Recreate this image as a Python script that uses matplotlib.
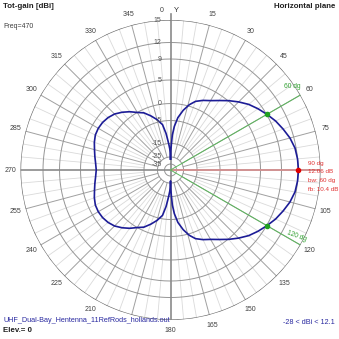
import numpy as np
import matplotlib
matplotlib.use("Agg")
import matplotlib.pyplot as plt
from matplotlib.transforms import offset_copy

plt.rcParams['font.family'] = ['Liberation Sans', 'DejaVu Sans']

# Horizontal-plane gain (dBi) vs azimuth (deg, clockwise from Y)
azimuth = [0, 1, 2, 3, 5, 8, 12, 16, 20, 25, 30, 35, 40, 45, 50, 55, 60, 65, 70, 75, 80, 85,
           90, 95, 100, 105, 110, 115, 120, 125, 130, 135, 140, 145, 150, 155, 160, 164, 168,
           172, 175, 177, 178, 179, 180,
           181, 182, 184, 187, 190, 195, 200, 205, 210, 215, 220, 225, 230, 235, 240, 245,
           250, 255, 260, 265, 270, 275, 280, 285, 290, 295, 300, 305, 310, 315, 320, 325,
           330, 335, 340, 345, 350, 353, 356, 358, 359, 360]
gain_dbi = [-28, -20, -15, -11.3, -7.5, -4.0, -1.6, 0.3, 1.4, 2.2, 2.9, 3.9, 5.1, 6.2, 7.3, 8.2,
            9.06, 9.9, 10.6, 11.3, 11.8, 12.0,
            12.06, 12.0, 11.8, 11.3, 10.6, 9.9, 9.06, 8.2, 7.3, 6.2, 5.1, 3.9, 2.9, 2.2, 1.4,
            0.3, -1.6, -4.0, -7.5, -11.3, -15, -20, -28,
            -22, -19, -15, -10.5, -6.5, -4.2, -2.6, -1.0, 0.0, 1.0, 1.9, 2.7, 3.2, 3.5, 3.6,
            3.5, 3.1, 2.6, 2.2, 1.85, 1.66, 1.85, 2.2, 2.6, 3.1, 3.5, 3.6, 3.5, 3.2, 2.7, 1.9,
            1.0, 0.0, -1.0, -2.6, -4.2, -6.5, -10.5, -15, -19, -22, -28]

# Polar grid rings (dBi) and where they sit on the log-style radius
ring_db = [15, 12, 9, 5, 0, -5, -15, -25, -35]
ring_r = [1.0, 0.85, 0.74, 0.6, 0.443, 0.33, 0.177, 0.087, 0.04]

max_dir = 90
max_gain = 12.06
bw_edges = [60, 120]
bw_gain = 9.06
bw = 60
fb = 10.4

# 90 sits under the red readout, 195 under the file name
angle_labels = [15, 30, 45, 60, 75, 105, 120, 135, 150, 165, 180, 210, 225, 240, 255, 270,
                285, 300, 315, 330, 345]


def gain_to_r(db):
    return np.interp(db, ring_db[::-1], ring_r[::-1])


fig = plt.figure(figsize=(3.39, 3.39), dpi=100)
ax = fig.add_axes([0.0605, 0.056, 0.885, 0.885], projection='polar')
ax.set_theta_zero_location('N')
ax.set_theta_direction(-1)
ax.set_ylim(0, 1)
ax.set_xticks([])
ax.set_yticks([])
ax.grid(False)
ax.spines['polar'].set_visible(False)

circ = np.linspace(0, 2 * np.pi, 361)

# spokes, 5 deg minor and 15 deg major
for a in range(5, 360, 5):
    if a % 90 == 0:
        continue
    t = np.deg2rad(a)
    if a % 15 == 0:
        ax.plot([t, t], [ring_r[7], 1.0], color='#a0a0a0', lw=0.7, zorder=1)
    else:
        ax.plot([t, t], [ring_r[6], 1.0], color='#dadada', lw=0.6, zorder=1)

# rings
for db, r in zip(ring_db, ring_r):
    if db == ring_db[0]:
        ax.plot(circ, np.full_like(circ, r), color='#6a6a6a', lw=0.9, zorder=2)
    else:
        ax.plot(circ, np.full_like(circ, r), color='#969696', lw=0.7, zorder=2)

# main X/Y axes
ax.plot([0, 0], [0, 1.04], color='#8a8a8a', lw=1.2, zorder=3, clip_on=False)
ax.plot([np.pi, np.pi], [0, 1.0], color='#8a8a8a', lw=1.2, zorder=3)
ax.plot([np.deg2rad(270), np.deg2rad(270)], [0, 1.0], color='#8a8a8a', lw=1.2, zorder=3)

# max direction and beamwidth markers
ax.plot([np.deg2rad(max_dir)] * 2, [0, 1.0], color='#d09090', lw=1.4, zorder=3)
for a in bw_edges:
    ax.plot([np.deg2rad(a)] * 2, [0, 1.0], color='#5cb85c', lw=0.7, zorder=3)

# pattern
ax.plot(np.deg2rad(azimuth), gain_to_r(gain_dbi), color='#1c1c96', lw=1.2, zorder=5)
ax.plot([np.deg2rad(max_dir)], [gain_to_r(max_gain)], 'o', color='#e00000', ms=3, zorder=6)
ax.plot(np.deg2rad(bw_edges), gain_to_r([bw_gain, bw_gain]), 'o', color='#20a020', ms=3, zorder=6)

# ring labels left of the Y axis
lab_tr = offset_copy(ax.transData, fig=fig, x=-9, y=0, units='dots')
for db, r in zip(ring_db, ring_r):
    ax.text(0, r, str(db), transform=lab_tr, ha='right', va='center', fontsize=5,
            color='#555555', zorder=7)

# azimuth labels
for a in angle_labels:
    ax.text(np.deg2rad(a), 1.07, str(a), ha='center', va='center', fontsize=5, color='#404040')

ax.text(np.deg2rad(60), 1.0, '60 dg', transform=offset_copy(ax.transData, fig=fig, x=-8, y=9, units='dots'),
        ha='center', va='center', fontsize=4.8, color='#30a030')
ax.text(np.deg2rad(120), 1.0, '120 dg', transform=offset_copy(ax.transData, fig=fig, x=-4, y=9, units='dots'),
        ha='center', va='center', fontsize=4.8, color='#30a030', rotation=-20)

info = [f'{max_dir} dg', f'{max_gain:.2f} dB', f'bw: {bw} dg', f'fb: {fb} dB']
for i, s in enumerate(info):
    fig.text(308 / 339, 1 - (163 + 8.7 * i) / 339, s, ha='left', va='center', fontsize=4.5,
             color='#e03030')

fig.text(162 / 339, 1 - 10 / 339, '0', ha='center', va='center', fontsize=5, color='#404040')
fig.text(176 / 339, 1 - 10 / 339, 'Y', ha='center', va='center', fontsize=5.5, color='#303030')

fig.text(3 / 339, 1 - 7 / 339, 'Tot-gain [dBi]', ha='left', va='center', fontsize=5.7,
         fontweight='bold', color='#202020')
fig.text(335 / 339, 1 - 7 / 339, 'Horizontal plane', ha='right', va='center', fontsize=5.7,
         fontweight='bold', color='#202020')
fig.text(3 / 339, 1 - 27 / 339, 'Freq=470', ha='left', va='center', fontsize=5, color='#404040')
fig.text(3 / 339, 1 - 321 / 339, 'UHF_Dual-Bay_Hentenna_11RefRods_hollands.out', ha='left', va='center',
         fontsize=5.2, color='#2a2aa0')
fig.text(3 / 339, 1 - 331 / 339, 'Elev.= 0', ha='left', va='center', fontsize=5.7,
         fontweight='bold', color='#202020')
fig.text(335 / 339, 1 - 322 / 339, f'{min(gain_dbi)} < dBi < {max(gain_dbi):.1f}', ha='right', va='center',
         fontsize=5.2, color='#2a2aa0')

fig.savefig('out.png', dpi=100, facecolor='white')
